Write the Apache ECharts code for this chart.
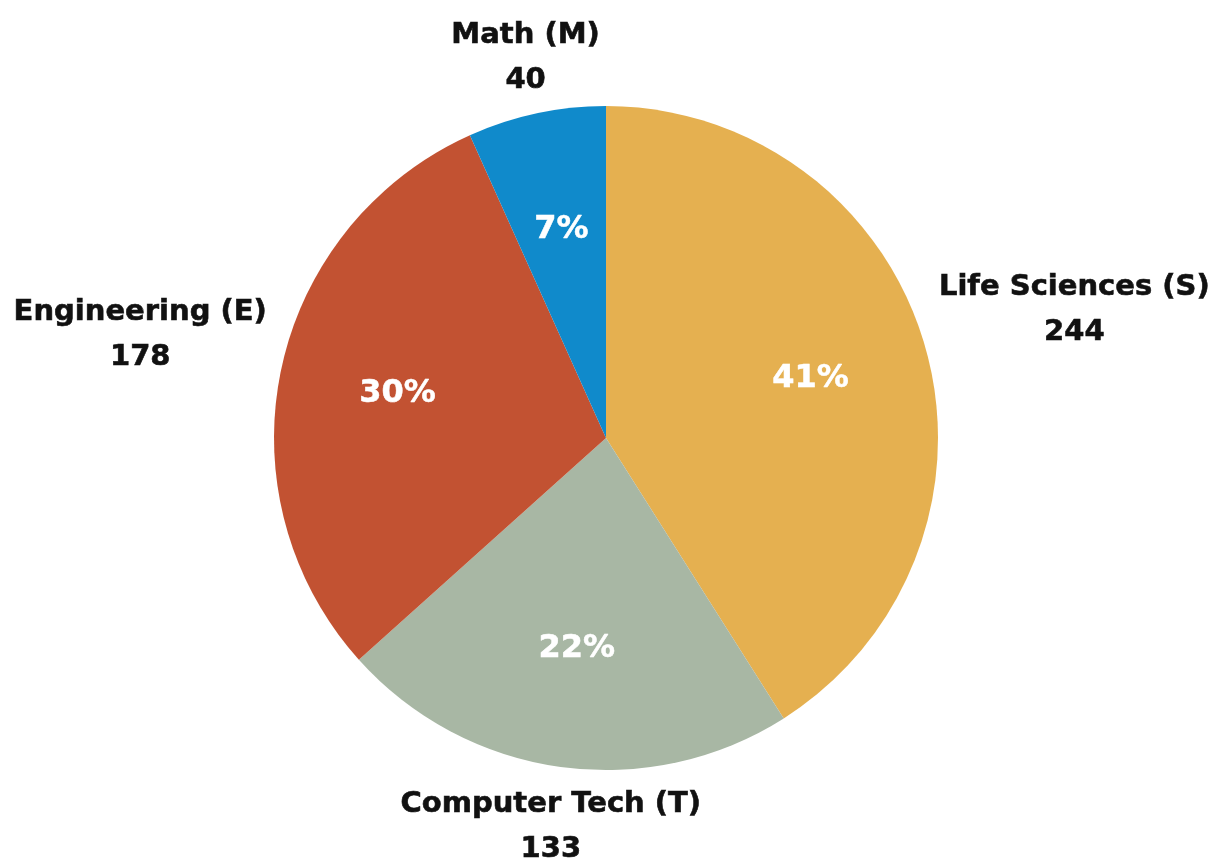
<!DOCTYPE html>
<html>
<head>
<meta charset="utf-8">
<title>STEM pie</title>
<script src="https://cdn.jsdelivr.net/npm/echarts@6.0.0/dist/echarts.min.js"></script>
<style>
  html, body { margin: 0; padding: 0; background: #fff; }
  #chart { width: 1223px; height: 863px; }
</style>
</head>
<body>
<div id="chart"></div>
<script>
// data, clockwise from 12 o'clock
const names = ["Life Sciences (S)", "Computer Tech (T)", "Engineering (E)", "Math (M)"];
const values = [244, 133, 178, 40];
const colors = ["#E5B050", "#A8B7A4", "#C25232", "#108ACB"];

const CX = 606, CY = 438, R = 332;
const FONT = "'DejaVu Sans', Roboto, sans-serif";

const pieData = names.map((n, i) => ({
  name: n,
  value: values[i],
  itemStyle: { color: colors[i] },
}));

const chart = echarts.init(document.getElementById("chart"), null, { renderer: "canvas" });

const textStyle = {
  fontFamily: FONT, fontWeight: "bold", fontSize: 29, lineHeight: 45,
  color: "#111", align: "center",
  textBorderColor: "#111", textBorderWidth: 0.6,
};

chart.setOption({
  backgroundColor: "#fff",
  animation: false,
  series: [
    {
      // slices + outside name/value labels
      type: "pie",
      center: [CX, CY],
      radius: [0, R],
      startAngle: 90,
      clockwise: true,
      silent: true,
      data: pieData,
      itemStyle: { borderWidth: 0 },
      label: {
        show: true,
        position: "outside",
        distanceToLabelLine: 0,
        bleedMargin: 0,
        formatter: (p) => `{n|${p.name}}\n{v|${p.value}}`,
        rich: { n: textStyle, v: textStyle },
      },
      labelLine: { show: false, length: 15, length2: 0 },
      labelLayout: (params) => {
        const r = params.labelRect;
        const ax = params.align === "right" ? r.x + r.width : r.x;
        const ay = r.y + r.height / 2;
        const vx = ax - CX, vy = ay - CY;
        const len = Math.hypot(vx, vy);
        if (Math.abs(vx) / len < 0.5) {
          // near top / bottom: centred above or below the slice
          return { x: ax - 8, y: ay + (vy < 0 ? 4 : 0), align: "center", verticalAlign: vy < 0 ? "bottom" : "top" };
        }
        return { x: ax, y: ay - 31, align: vx > 0 ? "left" : "right", verticalAlign: "middle" };
      },
    },
    {
      // percentage labels inside the slices
      type: "pie",
      center: [CX, CY],
      radius: [100, 320],
      startAngle: 90,
      clockwise: true,
      silent: true,
      data: pieData.map((d) => ({ name: d.name, value: d.value })),
      itemStyle: { color: "rgba(0,0,0,0)", borderWidth: 0 },
      label: {
        show: true,
        position: "inside",
        formatter: (p) => Math.round(p.percent) + "%",
        fontFamily: FONT,
        fontWeight: "bold",
        fontSize: 32,
        color: "#fff",
        textBorderColor: "#fff",
        textBorderWidth: 0.5,
      },
      labelLine: { show: false },
    },
  ],
});
</script>
</body>
</html>
